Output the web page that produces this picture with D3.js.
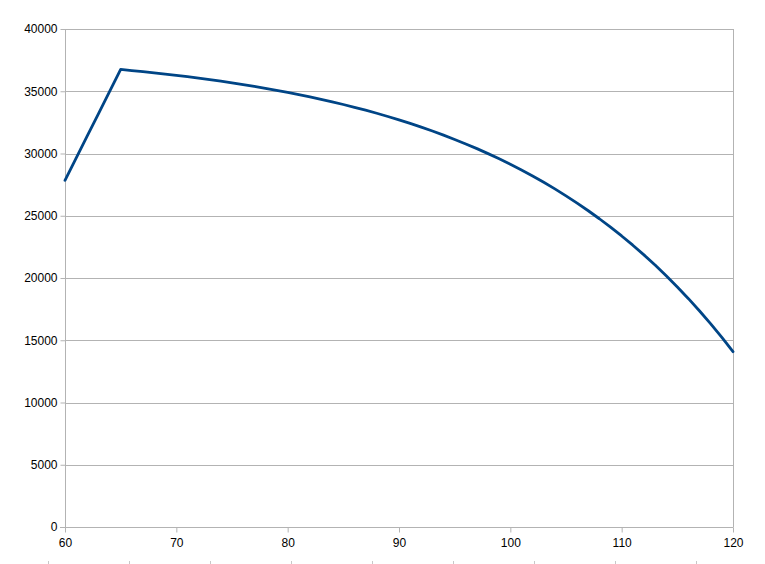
<!DOCTYPE html>
<html>
<head>
<meta charset="utf-8">
<script src="https://cdn.jsdelivr.net/npm/d3@7"></script>
<style>
  html, body { margin: 0; padding: 0; background: #fff; }
  svg { display: block; }
  text { font-family: "Liberation Sans", Arial, sans-serif; font-size: 12px; fill: #000; }
</style>
</head>
<body>
<svg id="chart" width="765" height="564"></svg>
<script>
// Data
const ages = [60,61,62,63,64,65,66,67,68,69,70,71,72,73,74,75,76,77,78,79,80,
  81,82,83,84,85,86,87,88,89,90,91,92,93,94,95,96,97,98,99,100,
  101,102,103,104,105,106,107,108,109,110,111,112,113,114,115,116,117,118,119,120];
const values = [27850,29630,31410,33190,34970,36750,36664,36574,36479,36380,36276,
  36167,36052,35932,35806,35674,35535,35390,35237,35077,34909,
  34732,34547,34353,34150,33936,33712,33477,33231,32972,32701,
  32416,32117,31804,31475,31130,30769,30389,29991,29573,29135,
  28675,28193,27687,27156,26599,26015,25402,24759,24085,23377,
  22635,21856,21039,20182,19283,18339,17350,16311,15222,14079];
const xTicks = [60,70,80,90,100,110,120];
const yTicks = [0,5000,10000,15000,20000,25000,30000,35000,40000];
const stubTicks = [0,1,2,3,4,5,6,7,8];

const svg = d3.select("#chart");
const m = { left: 65, right: 733, top: 29, bottom: 527 };
const x = d3.scaleLinear().domain([60,120]).range([m.left, m.right]);
const y = d3.scaleLinear().domain([0,40000]).range([m.bottom, m.top]);
const gridColor = "#b3b3b3";

// horizontal gridlines
svg.append("g").selectAll("line").data(yTicks.filter(d => d > 0)).join("line")
  .attr("x1", m.left).attr("x2", m.right)
  .attr("y1", d => Math.round(y(d)) + 0.5).attr("y2", d => Math.round(y(d)) + 0.5)
  .attr("stroke", gridColor).attr("stroke-width", 1);

// right border
svg.append("line")
  .attr("x1", m.right + 0.5).attr("x2", m.right + 0.5)
  .attr("y1", m.top).attr("y2", m.bottom)
  .attr("stroke", gridColor).attr("stroke-width", 1);

// y axis
const yAxis = d3.axisLeft(y).tickValues(yTicks).tickSize(5).tickPadding(3).tickFormat(d3.format("d"));
const gy = svg.append("g").attr("transform", `translate(${m.left + 0.5},0)`).call(yAxis);
gy.select(".domain").attr("stroke", gridColor).attr("d", `M0,${m.top}V${m.bottom + 5}`);
gy.selectAll(".tick line").attr("stroke", gridColor);
gy.selectAll(".tick text").attr("font-size", 12).attr("font-family", "Liberation Sans, Arial, sans-serif").attr("fill", "#000");

// x axis
const xAxis = d3.axisBottom(x).tickValues(xTicks).tickSize(5).tickPadding(6).tickFormat(d3.format("d"));
const gx = svg.append("g").attr("transform", `translate(0,${m.bottom + 0.5})`).call(xAxis);
gx.select(".domain").attr("stroke", gridColor).attr("d", `M${m.left - 5},0H${m.right + 0.5}`);
gx.selectAll(".tick line").attr("stroke", gridColor);
gx.selectAll(".tick text").attr("font-size", 12).attr("font-family", "Liberation Sans, Arial, sans-serif").attr("fill", "#000");

// tiny cut-off marks at the bottom edge
const xs = d3.scaleLinear().domain([0,8]).range([48, 696]);
svg.append("g").selectAll("line").data(stubTicks).join("line")
  .attr("x1", d => Math.round(xs(d)) + 0.5).attr("x2", d => Math.round(xs(d)) + 0.5)
  .attr("y1", 561).attr("y2", 564)
  .attr("stroke", "#c8c8c8").attr("stroke-width", 1);

// series line
const line = d3.line().x((d, i) => x(ages[i])).y(d => y(d));
svg.append("path").datum(values)
  .attr("d", line)
  .attr("fill", "none")
  .attr("stroke", "#004586")
  .attr("stroke-width", 2.8)
  .attr("stroke-linejoin", "round")
  .attr("stroke-linecap", "round");
</script>
</body>
</html>
